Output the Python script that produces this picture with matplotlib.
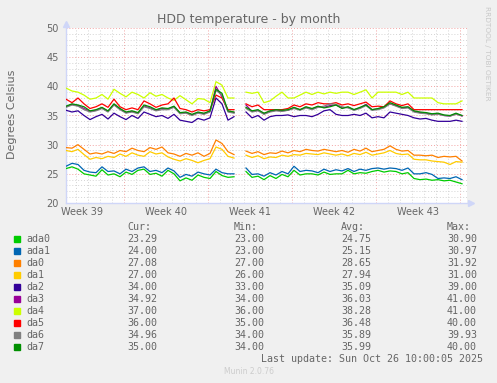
import matplotlib
matplotlib.use("Agg")
import matplotlib.pyplot as plt
import matplotlib.patches as mpatches
import numpy as np

# samples every half day, day 0 = left edge of the graph; None = no data
ada0 = [25.9, 26.2, 25.8, 25.0, 24.8, 24.6, 25.7, 24.8, 25.0, 24.5, 25.3, 24.9, 25.6, 25.8, 24.9, 25.1, 24.6, 25.6, 25.0, 23.8,
        24.3, 23.9, 24.8, 24.4, 24.2, 25.4, 24.7, 24.4, 24.5, None,
        25.4, 24.4, 24.6, 24.0, 24.7, 24.2, 24.9, 24.5, 25.6, 24.8, 25.0, 25.0, 24.8, 25.3, 24.9, 25.0, 25.0, 25.6, 25.0, 25.2,
        25.1, 25.4, 25.6, 25.3, 25.5, 25.4, 25.0, 25.2, 24.2, 24.0, 24.1, 23.9, 24.0, 23.8, 23.9, 23.6, 23.3]
ada1 = [26.3, 26.8, 26.6, 25.6, 25.3, 25.2, 26.2, 25.4, 25.5, 25.0, 25.8, 25.4, 26.0, 26.2, 25.4, 25.6, 25.2, 26.0, 25.5, 24.4,
        24.9, 24.6, 25.3, 25.0, 24.8, 25.8, 25.2, 25.0, 25.0, None,
        26.0, 24.9, 25.0, 24.6, 25.2, 24.8, 25.4, 25.0, 26.3, 25.4, 25.6, 25.5, 25.2, 25.8, 25.4, 25.7, 25.5, 25.9, 25.4, 25.8,
        25.6, 25.9, 26.0, 25.8, 26.0, 25.9, 25.6, 26.0, 25.0, 25.0, 25.2, 24.9, 24.2, 24.3, 24.2, 24.5, 24.0]
da0 = [29.5, 29.4, 30.0, 29.2, 28.4, 28.6, 28.4, 28.8, 28.5, 29.0, 28.8, 29.4, 29.0, 28.8, 29.5, 29.2, 29.6, 28.6, 28.4, 28.0,
       28.5, 28.2, 28.6, 28.0, 28.5, 30.8, 30.2, 28.8, 28.3, None,
       28.9, 28.5, 28.8, 28.3, 28.6, 28.5, 28.9, 28.6, 29.0, 28.8, 29.2, 29.0, 28.9, 29.2, 29.0, 28.8, 29.0, 28.7, 29.2, 28.9,
       29.4, 28.8, 29.0, 29.2, 29.8, 29.2, 28.9, 29.0, 28.2, 28.2, 28.1, 28.2, 27.8, 28.0, 27.9, 28.0, 27.2]
da1 = [29.0, 28.8, 29.2, 28.3, 27.5, 27.8, 27.6, 28.0, 27.8, 28.4, 28.0, 28.6, 28.2, 28.0, 28.8, 28.4, 28.6, 27.9, 27.5, 27.2,
       27.6, 27.3, 26.9, 27.3, 27.6, 29.6, 29.2, 28.0, 27.7, None,
       28.2, 27.8, 28.1, 27.6, 27.9, 27.8, 28.2, 28.0, 28.3, 28.2, 28.5, 28.4, 28.3, 28.6, 28.4, 28.2, 28.4, 28.1, 28.5, 28.3,
       28.7, 28.2, 28.4, 28.6, 29.0, 28.5, 28.3, 28.4, 27.5, 27.4, 27.4, 27.2, 27.1, 27.0, 26.6, 27.1, 27.0]
da2 = [35.9, 35.6, 35.8, 35.0, 34.3, 34.8, 35.2, 34.4, 35.4, 34.8, 34.3, 35.0, 34.5, 35.6, 35.2, 34.8, 35.0, 34.5, 35.2, 34.2,
       34.0, 33.8, 34.5, 34.2, 34.6, 38.0, 37.0, 34.2, 34.8, None,
       35.6, 34.6, 35.0, 34.2, 34.8, 35.0, 35.0, 35.1, 34.8, 35.0, 35.0, 34.8, 35.2, 35.8, 36.0, 35.2, 35.0, 35.0, 35.2, 35.0,
       35.4, 34.6, 34.8, 34.6, 35.6, 35.4, 35.2, 35.0, 34.6, 34.4, 34.5, 34.2, 34.0, 34.0, 34.0, 34.2, 34.0]
da3 = [36.5, 36.9, 36.7, 36.2, 35.7, 35.9, 36.3, 35.7, 36.9, 36.1, 35.5, 35.7, 35.4, 36.6, 36.3, 35.9, 36.2, 36.1, 36.5, 35.4,
       35.5, 35.1, 35.5, 35.3, 35.7, 40.0, 38.2, 35.7, 35.5, None,
       36.8, 35.7, 35.9, 35.3, 35.7, 35.9, 35.8, 35.9, 36.3, 36.0, 36.4, 36.1, 36.5, 36.4, 36.7, 36.8, 36.3, 36.4, 36.0, 36.3,
       36.9, 36.0, 36.1, 36.4, 37.0, 36.7, 36.3, 36.4, 35.7, 35.5, 35.4, 35.2, 35.3, 35.0, 34.9, 35.3, 34.9]
da4 = [39.7, 39.2, 39.0, 38.5, 37.8, 38.0, 38.6, 37.8, 39.5, 38.8, 38.2, 39.0, 38.6, 38.0, 38.9, 38.3, 38.6, 38.0, 37.6, 38.4,
       37.7, 37.0, 37.9, 37.8, 37.2, 40.8, 40.2, 38.0, 38.0, None,
       39.0, 38.8, 39.0, 37.2, 37.5, 38.3, 39.0, 38.0, 38.0, 38.5, 39.0, 38.6, 39.0, 38.7, 39.0, 38.8, 39.0, 39.0, 38.6, 39.0,
       39.4, 38.0, 39.0, 39.0, 39.0, 39.0, 38.6, 39.0, 38.0, 38.0, 38.0, 38.0, 37.2, 37.0, 37.0, 37.0, 37.5]
da5 = [37.8, 37.2, 38.0, 37.0, 36.2, 36.5, 37.0, 36.4, 37.8, 36.5, 36.0, 36.3, 36.0, 37.5, 37.0, 36.4, 36.8, 37.0, 38.0, 36.2,
       36.0, 35.6, 36.0, 35.8, 36.0, 38.5, 38.0, 36.0, 36.0, None,
       37.0, 36.5, 36.8, 36.0, 36.0, 36.0, 36.0, 36.2, 36.8, 36.5, 37.0, 36.8, 37.2, 37.0, 37.0, 37.2, 36.8, 37.0, 36.7, 37.0,
       37.3, 36.5, 36.6, 36.5, 37.5, 37.0, 36.7, 37.0, 36.0, 36.0, 36.0, 36.0, 36.0, 36.0, 36.0, 36.0, 36.0]
da6 = [36.4, 36.8, 36.6, 36.0, 35.6, 35.8, 36.2, 35.6, 36.8, 36.0, 35.4, 35.6, 35.3, 36.5, 36.2, 35.8, 36.0, 36.0, 36.4, 35.3,
       35.4, 35.0, 35.4, 35.2, 35.6, 39.3, 38.5, 35.6, 35.4, None,
       36.2, 35.6, 35.8, 35.2, 35.6, 35.8, 35.7, 35.9, 36.2, 35.9, 36.3, 36.0, 36.4, 36.6, 37.0, 36.9, 36.5, 36.3, 35.9, 36.2,
       36.7, 35.9, 36.0, 36.3, 37.0, 36.6, 36.2, 36.3, 35.6, 35.4, 35.3, 35.1, 35.2, 35.0, 34.9, 35.2, 35.0]
da7 = [36.6, 37.0, 36.8, 36.5, 35.8, 36.0, 36.4, 35.8, 37.0, 36.2, 35.6, 35.8, 35.5, 36.8, 36.5, 36.0, 36.3, 36.2, 36.6, 35.5,
       35.6, 35.2, 35.6, 35.4, 35.8, 39.5, 38.8, 35.8, 35.6, None,
       36.4, 35.8, 36.0, 35.4, 35.8, 36.0, 35.9, 36.0, 36.4, 36.0, 36.5, 36.2, 36.6, 36.3, 36.5, 36.8, 36.2, 36.5, 36.0, 36.4,
       36.8, 36.0, 36.2, 36.5, 37.2, 36.8, 36.4, 36.5, 35.8, 35.6, 35.5, 35.3, 35.4, 35.1, 35.0, 35.4, 35.0]

names = ["ada0", "ada1", "da0", "da1", "da2", "da3", "da4", "da5", "da6", "da7"]
series = [ada0, ada1, da0, da1, da2, da3, da4, da5, da6, da7]
colors = ["#00CC00", "#0066B3", "#FF8000", "#FFCC00", "#330099",
          "#990099", "#CCFF00", "#FF0000", "#808080", "#008F00"]
cur = ["23.29", "24.00", "27.08", "27.00", "34.00", "34.92", "37.00", "36.00", "34.96", "35.00"]
mins = ["23.00", "23.00", "27.00", "26.00", "33.00", "34.00", "36.00", "35.00", "34.00", "34.00"]
avgs = ["24.75", "25.15", "28.65", "27.94", "35.09", "36.03", "38.28", "36.48", "35.89", "35.99"]
maxs = ["30.90", "30.97", "31.92", "31.00", "39.00", "41.00", "41.00", "40.00", "39.93", "40.00"]
week_labels = ["Week 39", "Week 40", "Week 41", "Week 42", "Week 43"]

days = np.arange(len(ada0)) * 0.5
week_start = 4.833  # first week boundary, in days from the left edge

W, H = 497, 383
fig = plt.figure(figsize=(W / 100, H / 100), dpi=100, facecolor="#F0F0F0")
ax = fig.add_axes([66 / W, 1 - 203 / H, 401 / W, 175 / H], facecolor="white")

txt = "#666666"
minor_c = "#D4D4D4"
major_c = "#F2A4A4"
dot = (0, (1, 2))

ax.set_xlim(0, 401 / 12)
ax.set_ylim(20, 50)

# grid
for d in np.arange(week_start - 4, 401 / 12, 1.0):
    is_major = abs(((d - week_start) / 7) - round((d - week_start) / 7)) < 1e-6
    ax.axvline(d, color=major_c if is_major else minor_c, lw=0.7, ls=dot, zorder=0)
for v in range(21, 51):
    ax.axhline(v, color=major_c if v % 5 == 0 else minor_c, lw=0.7, ls=dot, zorder=0)

for name, vals, c in zip(names, series, colors):
    y = np.array([np.nan if v is None else v for v in vals])
    ax.plot(days, y, color=c, lw=0.9, zorder=3)

ax.set_yticks(range(20, 51, 5))
ax.set_xticks([week_start - 3.5 + 7 * i for i in range(5)])
ax.set_xticklabels(week_labels)
ax.tick_params(length=0, labelsize=7, colors=txt)
ax.tick_params(axis="y", pad=5)
ax.tick_params(axis="x", pad=3)

for s in ["top", "right"]:
    ax.spines[s].set_visible(False)
for s in ["left", "bottom"]:
    ax.spines[s].set_color("#CFD6F8")
    ax.spines[s].set_linewidth(1.0)
ax.plot([0], [1.025], marker="^", ms=4, color="#CFD6F8", transform=ax.transAxes, clip_on=False)
ax.plot([1.01], [0], marker=">", ms=4, color="#CFD6F8", transform=ax.transAxes, clip_on=False)

fig.text(0.5, 1 - 19 / H, "HDD temperature - by month", ha="center", va="center", fontsize=9, color=txt)
fig.text(12 / W, 1 - 114 / H, "Degrees Celsius", rotation=90, ha="center", va="center", fontsize=8, color=txt)
fig.text(487 / W, 1 - 53 / H, "RRDTOOL / TOBI OETIKER", rotation=270, ha="center", va="center",
         fontsize=5.3, color="#C8C8C8")

# legend table
mono = dict(family="DejaVu Sans Mono", fontsize=7.2, color=txt, va="center")
cols = [127, 234, 341, 447]
for x, head in zip(cols, ["Cur:", "Min:", "Avg:", "Max:"]):
    fig.text(x / W, 1 - 227 / H, head, **mono)
for i, name in enumerate(names):
    yy = 239 + 12 * i
    fig.patches.append(mpatches.Rectangle((14 / W, 1 - (yy + 3) / H), 6 / W, 6 / H,
                                          transform=fig.transFigure, color=colors[i]))
    fig.text(26 / W, 1 - yy / H, name, **mono)
    for x, v in zip(cols, [cur[i], mins[i], avgs[i], maxs[i]]):
        fig.text(x / W, 1 - yy / H, v, **mono)

fig.text(483 / W, 1 - 359 / H, "Last update: Sun Oct 26 10:00:05 2025", ha="right",
         **{k: v for k, v in mono.items()})
fig.text(0.5, 1 - 372 / H, "Munin 2.0.76", ha="center", va="center", fontsize=5.5, color="#CCCCCC")

fig.savefig("out.png", dpi=100, facecolor=fig.get_facecolor())
